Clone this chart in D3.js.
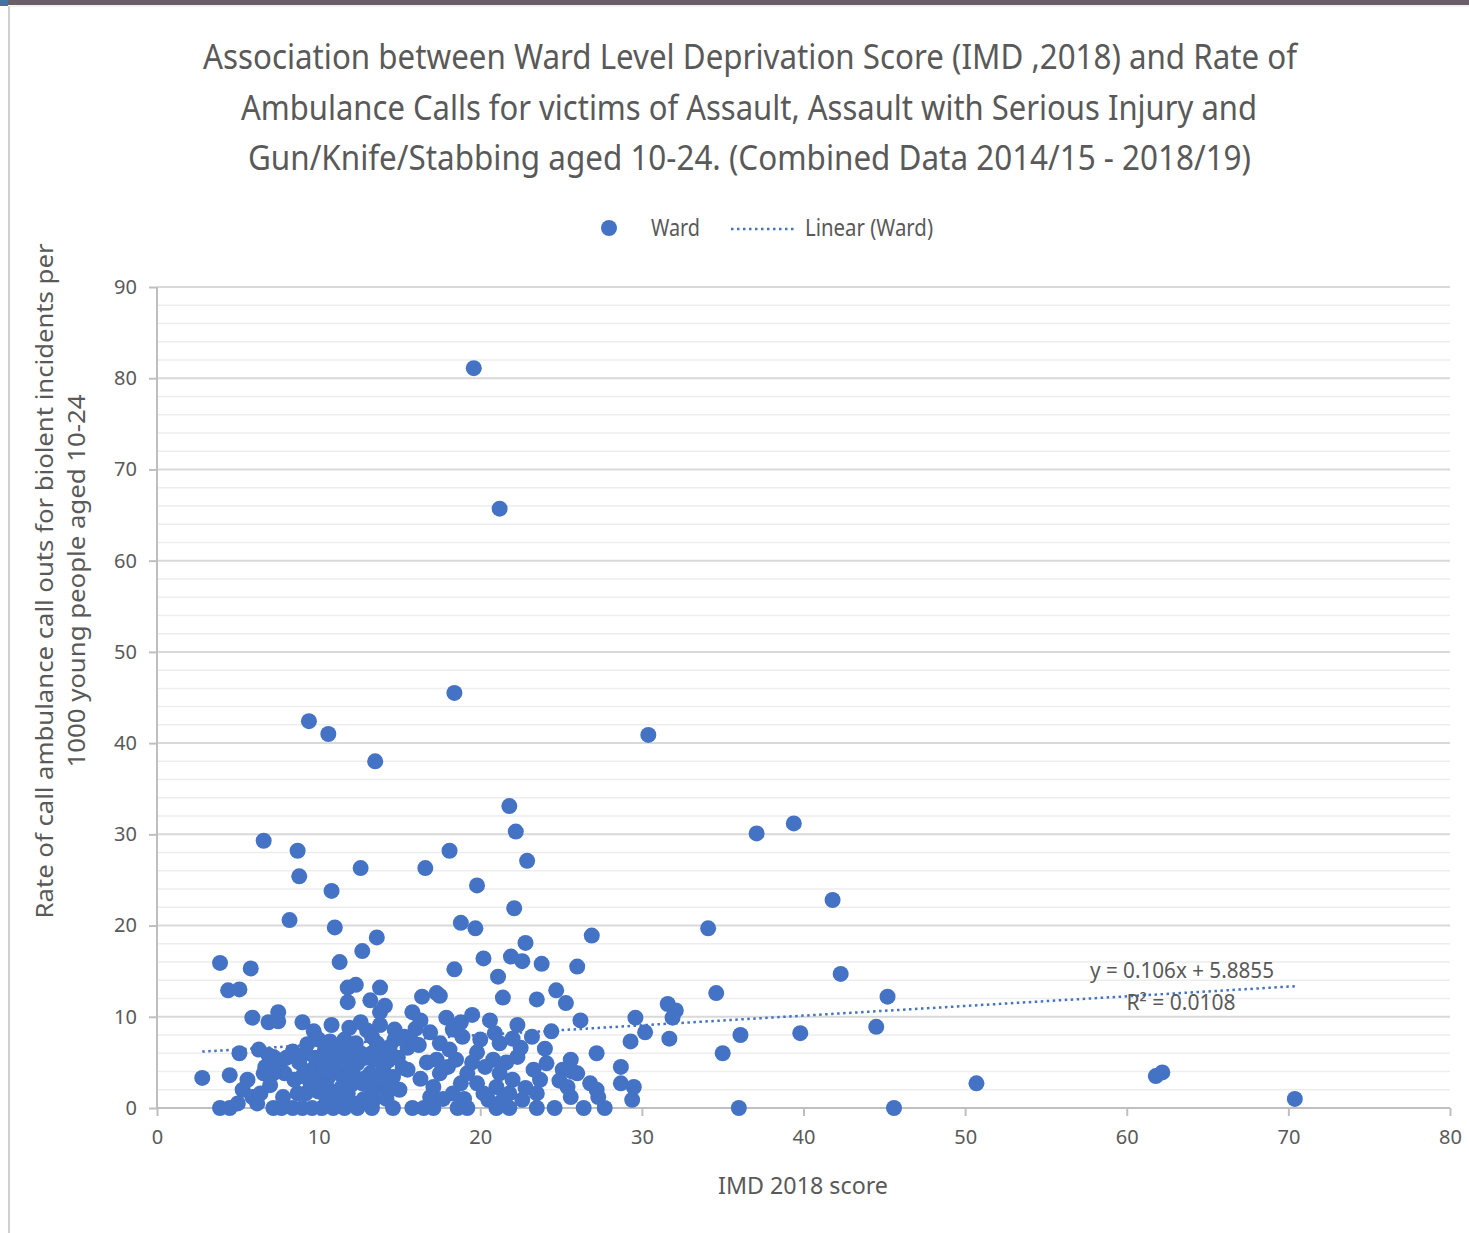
<!DOCTYPE html>
<html>
<head>
<meta charset="utf-8">
<script src="https://cdn.jsdelivr.net/npm/d3@7"></script>
<style>
  html, body { margin: 0; padding: 0; background: #fff; }
  svg text { fill: #595959; }
</style>
</head>
<body>
<div id="chart"></div>
<script>
// ward values (x = IMD 2018 score, y = rate per 1000)
var imdScore = [
  19.6, 21.2, 18.4, 9.4, 10.6, 30.4, 13.5, 21.8, 39.4, 37.1, 22.2, 6.6, 8.7, 18.1, 22.9, 12.6,
  16.6, 8.8, 19.8, 10.8, 41.8, 22.1, 8.2, 18.8, 19.7, 34.1, 11.0, 13.6, 26.9, 22.8, 12.7, 3.9,
  5.8, 11.3, 20.2, 21.9, 22.6, 23.8, 26.0, 18.4, 42.3, 21.1, 4.4, 5.1, 16.4, 17.3, 17.5, 11.8,
  12.3, 13.8, 34.6, 45.2, 21.4, 23.5, 24.7, 25.3, 31.6, 32.1, 13.2, 11.8, 7.5, 5.9, 6.9, 7.5,
  14.1, 29.6, 31.9, 26.2, 17.9, 18.8, 19.5, 20.6, 22.3, 30.2, 36.1, 39.8, 44.5, 24.4, 9.7, 5.1,
  29.3, 31.7, 35.0, 27.2, 2.8, 4.5, 50.7, 61.8, 62.2, 70.4, 36.0, 45.6,
  10.8, 11.9, 12.6, 13.8, 14.7, 14.7, 15.8, 15.5, 15.2, 14.4, 23.2, 22.5, 21.2, 19.8, 18.9, 28.7,
  29.5, 28.7, 29.4, 27.7, 26.4, 27.2, 26.8, 25.6, 26.0, 25.1, 25.4, 25.6, 24.6, 24.1, 23.7, 23.5,
  23.5, 25.7, 27.3, 13.8, 15.8, 13.6, 13.4, 14.0, 14.6, 15.0, 14.4, 13.6, 13.2, 13.4, 14.6, 15.5,
  15.8, 16.5, 17.1, 17.5, 17.3, 17.5, 17.1, 16.9, 18.3, 18.1, 19.2, 18.8, 18.3, 19.2, 18.6, 19.8,
  20.2, 20.5, 20.8, 21.2, 21.0, 21.4, 21.0, 21.8, 22.3, 22.0, 21.8, 23.3, 6.3, 6.9, 6.7, 7.6,
  7.9, 5.6, 5.3, 5.9, 6.4, 3.9, 4.5, 5.0, 7.2, 7.7, 8.5, 8.7, 8.4, 9.2, 9.6, 9.2,
  9.6, 10.2, 10.0, 10.4, 10.6, 11.0, 10.9, 11.6, 11.8, 11.5, 11.8, 11.6, 12.3, 12.4, 12.7, 12.4,
  13.3, 13.3, 13.3, 13.3, 13.9, 6.2, 7.2, 6.6, 7.2, 8.8, 9.9, 10.2, 10.9, 11.0, 12.0, 12.9,
  12.0, 9.5, 10.5, 11.3, 12.8, 9.0, 10.5, 12.2, 8.4, 16.2, 16.0,
  7.0, 7.8, 8.0, 9.0, 9.3, 9.8, 10.0, 10.3, 10.7, 11.2, 11.4, 11.9, 12.2, 12.6, 12.9, 13.0,
  13.7, 14.2, 14.3, 14.9, 15.3, 16.3, 16.7, 16.9, 17.7, 18.0, 18.5, 19.0, 19.5, 20.0, 20.3, 20.9,
  21.6, 22.0, 22.8, 22.6, 24.0, 24.9, 16.3, 9.0
];
var callRate = [
  81.1, 65.7, 45.5, 42.4, 41.0, 40.9, 38.0, 33.1, 31.2, 30.1, 30.3, 29.3, 28.2, 28.2, 27.1, 26.3,
  26.3, 25.4, 24.4, 23.8, 22.8, 21.9, 20.6, 20.3, 19.7, 19.7, 19.8, 18.7, 18.9, 18.1, 17.2, 15.9,
  15.3, 16.0, 16.4, 16.6, 16.1, 15.8, 15.5, 15.2, 14.7, 14.4, 12.9, 13.0, 12.2, 12.6, 12.3, 13.2,
  13.5, 13.2, 12.6, 12.2, 12.1, 11.9, 12.9, 11.5, 11.4, 10.7, 11.8, 11.6, 10.5, 9.9, 9.4, 9.5,
  11.2, 9.9, 9.9, 9.6, 9.9, 9.4, 10.2, 9.6, 9.1, 8.3, 8.0, 8.2, 8.9, 8.4, 8.4, 6.0,
  7.3, 7.6, 6.0, 6.0, 3.3, 3.6, 2.7, 3.5, 3.9, 1.0, 0, 0,
  9.1, 8.8, 9.4, 9.1, 8.6, 7.5, 10.5, 6.6, 4.4, 6.7, 7.8, 6.6, 7.1, 6.1, 7.8, 4.5,
  2.3, 2.7, 0.9, 0, 0, 2.0, 2.7, 5.3, 3.8, 4.2, 2.3, 1.2, 0, 4.9, 3.1, 1.6,
  0, 4.0, 1.2, 10.5, 7.2, 7.1, 5.3, 4.2, 3.4, 2.0, 2.0, 2.3, 3.8, 0.9, 0, 4.2,
  0, 0, 0, 7.1, 5.3, 3.8, 2.3, 1.2, 8.6, 6.4, 3.8, 2.7, 1.6, 0, 0, 2.7,
  1.6, 0.9, 5.3, 3.8, 2.3, 0.9, 0, 0, 5.6, 3.1, 1.6, 4.2, 6.4, 5.8, 4.5, 4.9,
  3.8, 3.1, 2.0, 1.2, 1.6, 0, 0, 0.5, 0, 0, 3.1, 1.6, 0, 6.0, 4.2, 1.6,
  0, 0, 7.5, 6.4, 3.4, 1.6, 0, 7.5, 5.3, 3.4, 1.6, 0, 7.1, 4.9, 2.7, 0,
  7.8, 6.0, 1.6, 0, 3.1, 0.5, 5.6, 3.8, 3.8, 5.0, 3.0, 5.0, 5.6, 4.5, 2.5, 5.5,
  6.5, 2.7, 1.0, 0.8, 1.0, 0, 2.3, 3.5, 6.2, 6.9, 8.7,
  2.5, 1.2, 5.5, 3.5, 7.0, 5.5, 1.8, 4.0, 7.3, 6.3, 2.2, 4.2, 0.5, 6.0, 3.3, 8.5,
  5.7, 1.0, 5.2, 5.5, 7.8, 3.2, 5.0, 8.3, 1.0, 4.5, 5.3, 1.0, 5.0, 7.5, 4.5, 8.2,
  5.0, 7.6, 2.2, 0.9, 6.5, 3.0, 9.6, 9.4
];

var titleLines = [
  "Association between Ward Level Deprivation Score (IMD ,2018) and Rate of",
  "Ambulance Calls for victims of Assault, Assault with Serious Injury and",
  "Gun/Knife/Stabbing aged 10-24. (Combined Data 2014/15 - 2018/19)"
];
var yTitleLines = [
  "Rate of call ambulance call outs for  biolent incidents per",
  "1000 young people aged 10-24"
];
var xTitle = "IMD 2018  score";
var xTicks = [0, 10, 20, 30, 40, 50, 60, 70, 80];
var yTicks = [0, 10, 20, 30, 40, 50, 60, 70, 80, 90];
var yMinorTicks = d3.range(0, 91, 2);
var trendSlope = 0.106, trendIntercept = 5.8855, trendFrom = 2.8, trendTo = 70.4;
var trendLabels = ["y = 0.106x + 5.8855", "R\u00b2 = 0.0108"];
var legendLabels = ["Ward", "Linear (Ward)"];

var W = 1469, H = 1233;
var margin = {top: 287, right: 19, bottom: 125, left: 157};
var pw = W - margin.left - margin.right;
var ph = H - margin.top - margin.bottom;
var blue = "#4472c4";
var font = "'Liberation Sans Narrow', 'Noto Sans', sans-serif";

var svg = d3.select("#chart").append("svg")
  .attr("width", W).attr("height", H)
  .style("display", "block");

// frame bits of the screenshot
svg.append("rect").attr("x", 0).attr("y", 0).attr("width", W).attr("height", 5).attr("fill", "#6a5f69");
svg.append("rect").attr("x", 0).attr("y", 0).attr("width", 8).attr("height", 6).attr("fill", "#4a6fa5");
svg.append("line").attr("x1", 9).attr("x2", 9).attr("y1", 6).attr("y2", H)
  .attr("stroke", "#d0d0d0").attr("stroke-width", 2);
svg.append("line").attr("x1", 9).attr("x2", W).attr("y1", 6).attr("y2", 6)
  .attr("stroke", "#e6e6e6").attr("stroke-width", 1);

// title
var titleWidths = [1094, 1016, 1003];
var titleCx = [750, 749, 749.5];
svg.append("g").selectAll("text")
  .data(titleLines).enter().append("text")
  .attr("x", function(d, i) { return titleCx[i]; })
  .attr("y", function(d, i) { return 69 + i * 50.5; })
  .attr("text-anchor", "middle")
  .attr("textLength", function(d, i) { return titleWidths[i]; })
  .attr("lengthAdjust", "spacingAndGlyphs")
  .style("font-family", font).style("font-size", "35px")
  .text(function(d) { return d; });

var x = d3.scaleLinear().domain([0, 80]).range([0, pw]);
var y = d3.scaleLinear().domain([0, 90]).range([ph, 0]);

var chart = svg.append("g")
  .attr("transform", "translate(" + margin.left + "," + margin.top + ")");

// gridlines
chart.append("g").selectAll("line")
  .data(yMinorTicks.filter(function(d) { return d % 10 !== 0; }))
  .enter().append("line")
  .attr("x1", 0).attr("x2", pw)
  .attr("y1", function(d) { return y(d); }).attr("y2", function(d) { return y(d); })
  .attr("stroke", "#ededed").attr("stroke-width", 1.5);
chart.append("g").selectAll("line")
  .data(yTicks.slice(1))
  .enter().append("line")
  .attr("x1", 0).attr("x2", pw)
  .attr("y1", function(d) { return y(d); }).attr("y2", function(d) { return y(d); })
  .attr("stroke", "#d9d9d9").attr("stroke-width", 2);

// axes
var xAxis = d3.axisBottom(x).tickValues(xTicks).tickSize(8).tickPadding(14).tickFormat(d3.format("d"));
var yAxis = d3.axisLeft(y).tickValues(yTicks).tickSize(8).tickPadding(12).tickFormat(d3.format("d"));

var gx = chart.append("g").attr("transform", "translate(0," + ph + ")").call(xAxis);
var gy = chart.append("g").call(yAxis);
[gx, gy].forEach(function(g) {
  g.select(".domain").attr("stroke", "#bfbfbf").attr("stroke-width", 2);
  g.selectAll(".tick line").attr("stroke", "#bfbfbf").attr("stroke-width", 2);
  g.selectAll(".tick text").attr("fill", "#6a6a6a")
    .style("font-family", "'Noto Sans', sans-serif").style("font-size", "20px");
});
gx.select(".domain").attr("d", "M0,0H" + pw);
gy.select(".domain").attr("d", "M0,0V" + ph);

// points
chart.append("g").selectAll("circle")
  .data(d3.range(imdScore.length))
  .enter().append("circle")
  .attr("cx", function(i) { return x(imdScore[i]); })
  .attr("cy", function(i) { return y(callRate[i]); })
  .attr("r", 8)
  .attr("fill", blue);

// linear trend
chart.append("line")
  .attr("x1", x(trendFrom)).attr("y1", y(trendSlope * trendFrom + trendIntercept))
  .attr("x2", x(trendTo)).attr("y2", y(trendSlope * trendTo + trendIntercept))
  .attr("stroke", blue).attr("stroke-width", 2.5)
  .attr("stroke-dasharray", "2.5,3.5");

var trendWidths = [184, 109];
chart.append("g").selectAll("text")
  .data(trendLabels).enter().append("text")
  .attr("x", function(d, i) { return i === 0 ? 1182 - margin.left : 1181 - margin.left; })
  .attr("y", function(d, i) { return (i === 0 ? 978 : 1010) - margin.top; })
  .attr("text-anchor", "middle")
  .attr("textLength", function(d, i) { return trendWidths[i]; })
  .attr("lengthAdjust", "spacingAndGlyphs")
  .style("font-family", font).style("font-size", "22px")
  .text(function(d) { return d; });

// axis titles
svg.append("text")
  .attr("x", 803).attr("y", 1194)
  .attr("text-anchor", "middle")
  .attr("textLength", 170).attr("lengthAdjust", "spacingAndGlyphs")
  .style("font-family", font).style("font-size", "23px")
  .text(xTitle);

var yTitleX = [45, 77], yTitleLen = [675, 373];
svg.append("g").selectAll("text")
  .data(yTitleLines).enter().append("text")
  .attr("transform", function(d, i) { return "translate(" + yTitleX[i] + ",581) rotate(-90)"; })
  .attr("text-anchor", "middle")
  .attr("dy", "0.35em")
  .attr("textLength", function(d, i) { return yTitleLen[i]; })
  .attr("lengthAdjust", "spacingAndGlyphs")
  .style("font-family", font).style("font-size", "23px")
  .text(function(d) { return d; });

// legend
var legend = svg.append("g").attr("class", "legend");
legend.append("circle").attr("cx", 609).attr("cy", 228).attr("r", 8).attr("fill", blue);
legend.append("line").attr("x1", 731).attr("x2", 795).attr("y1", 229).attr("y2", 229)
  .attr("stroke", blue).attr("stroke-width", 2.5).attr("stroke-dasharray", "2.5,3.5");
var legendX = [651, 805], legendLen = [49, 128];
legend.selectAll("text")
  .data(legendLabels).enter().append("text")
  .attr("x", function(d, i) { return legendX[i]; })
  .attr("y", 236)
  .attr("textLength", function(d, i) { return legendLen[i]; })
  .attr("lengthAdjust", "spacingAndGlyphs")
  .style("font-family", font).style("font-size", "23px")
  .text(function(d) { return d; });
</script>
</body>
</html>
